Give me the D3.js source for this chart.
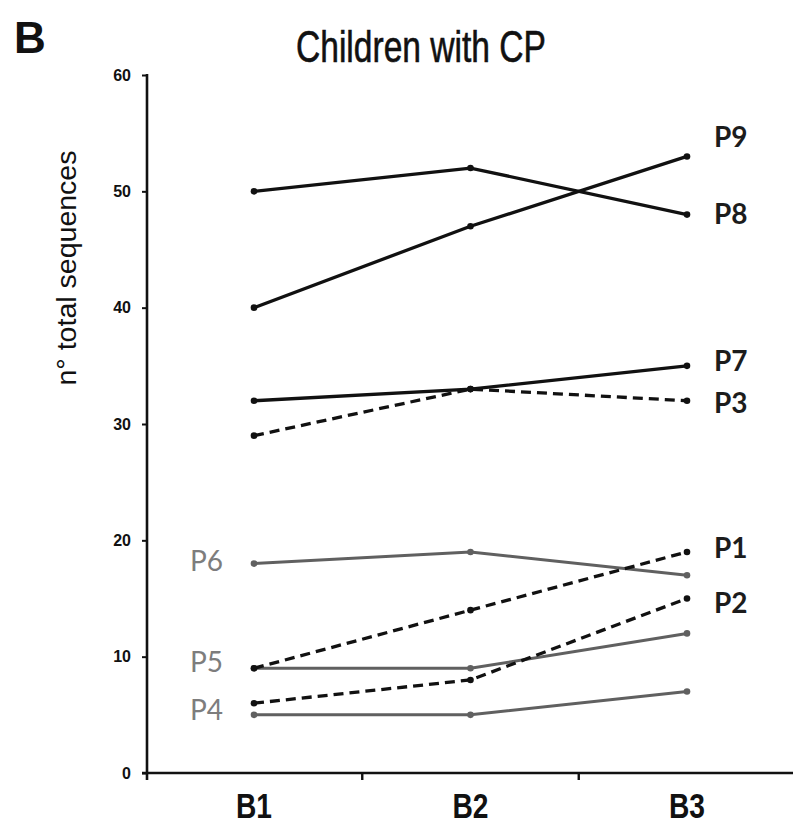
<!DOCTYPE html>
<html>
<head>
<meta charset="utf-8">
<script src="https://cdn.jsdelivr.net/npm/d3@7"></script>
<style>
  body { margin: 0; background: #fff; }
  svg { display: block; }
</style>
</head>
<body>
<main></main>
<script>
var w = 793;
var h = 827;

// sessions on the x axis
var sessions = ["B1", "B2", "B3"];
var yTicks = [0, 10, 20, 30, 40, 50, 60];

// n° total sequences per child, B1..B3
var patients = ["P1", "P2", "P3", "P4", "P5", "P6", "P7", "P8", "P9"];
var p1 = [9, 14, 19];
var p2 = [6, 8, 15];
var p3 = [29, 33, 32];
var p4 = [5, 5, 7];
var p5 = [9, 9, 12];
var p6 = [18, 19, 17];
var p7 = [32, 33, 35];
var p8 = [50, 52, 48];
var p9 = [40, 47, 53];
var values = [p1, p2, p3, p4, p5, p6, p7, p8, p9];

// line kind per child: solid black, dashed black, grey
var kinds = ["dash", "dash", "dash", "grey", "grey", "grey", "solid", "solid", "solid"];

var svg = d3.select("main").append("svg").attr("width", w).attr("height", h);

// narrow fonts are not installed, squeeze text to the original width instead
var sans = "Liberation Sans, Arial, sans-serif";

// SCALES
var xScale = d3.scalePoint().domain(sessions).range([254, 687]);
var yScale = d3.scaleLinear().domain([0, 60]).range([773, 75]);

// label nudges (px) so they sit like the original
var nudge = { P1: -4, P2: 5, P3: 2, P4: -5, P5: -6, P6: -2, P7: -5, P8: 0, P9: -19 };

var line = d3.line()
  .x(function (d, i) { return xScale(sessions[i]); })
  .y(function (d) { return yScale(d); });

var series = patients.map(function (p, i) {
  return { name: p, vals: values[i], kind: kinds[i] };
});

// grey lines first, then black
var order = ["grey", "solid", "dash"];
series.sort(function (a, b) { return order.indexOf(a.kind) - order.indexOf(b.kind); });

series.forEach(function (s) {
  var col = s.kind == "grey" ? "#606060" : "#111";
  svg.append("path")
    .datum(s.vals)
    .attr("d", line)
    .attr("fill", "none")
    .attr("stroke", col)
    .attr("stroke-width", s.kind == "grey" ? 3 : 3.3)
    .attr("stroke-dasharray", s.kind == "dash" ? "10,6" : null);
  svg.selectAll(null)
    .data(s.vals)
    .enter()
    .append("circle")
    .attr("cx", function (d, i) { return xScale(sessions[i]); })
    .attr("cy", function (d) { return yScale(d); })
    .attr("r", 3.3)
    .attr("fill", col);
});

// AXES
var yAxis = d3.axisLeft(yScale).tickValues(yTicks).tickSize(5).tickSizeOuter(0);
var gy = svg.append("g")
  .attr("transform", "translate(147,0)")
  .call(yAxis);
gy.select(".domain").remove();
gy.selectAll(".tick line").attr("stroke", "#111").attr("stroke-width", 2);
gy.selectAll(".tick text")
  .attr("x", -16)
  .attr("font-family", sans)
  .attr("font-weight", "bold")
  .attr("font-size", "16px")
  .attr("fill", "#111");
gy.append("line")
  .attr("x1", 0).attr("x2", 0)
  .attr("y1", yScale(60) - 1).attr("y2", yScale(0) + 7)
  .attr("stroke", "#111").attr("stroke-width", 2.6);

// x axis line + ticks between sessions
svg.append("line")
  .attr("x1", 142).attr("x2", w)
  .attr("y1", yScale(0)).attr("y2", yScale(0))
  .attr("stroke", "#111").attr("stroke-width", 2.6);
d3.pairs(sessions).forEach(function (p) {
  var mx = (xScale(p[0]) + xScale(p[1])) / 2;
  svg.append("line")
    .attr("x1", mx).attr("x2", mx)
    .attr("y1", yScale(0)).attr("y2", yScale(0) + 7)
    .attr("stroke", "#111").attr("stroke-width", 2.4);
});
svg.selectAll("text.xlab")
  .data(sessions)
  .enter()
  .append("text")
  .attr("class", "xlab")
  .attr("x", function (d) { return xScale(d); })
  .attr("y", 818)
  .attr("text-anchor", "middle")
  .attr("font-family", sans)
  .attr("font-weight", "bold")
  .attr("font-size", "35px")
  .attr("textLength", 36)
  .attr("lengthAdjust", "spacingAndGlyphs")
  .attr("fill", "#111")
  .text(function (d) { return d; });

// SERIES LABELS
series.forEach(function (s) {
  var left = s.kind == "grey";
  var v = left ? s.vals[0] : s.vals[s.vals.length - 1];
  svg.append("text")
    .attr("x", left ? 223 : 714)
    .attr("y", yScale(v) + nudge[s.name])
    .attr("dy", "0.35em")
    .attr("text-anchor", left ? "end" : "start")
    .attr("font-family", "Lato, Open Sans, sans-serif")
    .attr("font-weight", left ? "normal" : "bold")
    .attr("font-size", "28px")
    .attr("fill", left ? "#7d7d7d" : "#1c1c1c")
    .text(s.name);
});

// y-axis label
svg.append("text")
  .attr("transform", "translate(76,268) rotate(-90)")
  .attr("text-anchor", "middle")
  .attr("font-family", sans)
  .attr("font-size", "27px")
  .attr("textLength", 235)
  .attr("lengthAdjust", "spacingAndGlyphs")
  .attr("fill", "#111")
  .text("n° total sequences");

// title + panel letter
svg.append("text")
  .attr("x", 421)
  .attr("y", 62)
  .attr("text-anchor", "middle")
  .attr("font-family", sans)
  .attr("font-size", "44px")
  .attr("textLength", 250)
  .attr("lengthAdjust", "spacingAndGlyphs")
  .attr("fill", "#111")
  .attr("stroke", "#111")
  .attr("stroke-width", 0.6)
  .text("Children with CP");
svg.append("text")
  .attr("x", 14)
  .attr("y", 53)
  .attr("font-family", sans)
  .attr("font-weight", "bold")
  .attr("font-size", "44px")
  .attr("fill", "#111")
  .text("B");
</script>
</body>
</html>
